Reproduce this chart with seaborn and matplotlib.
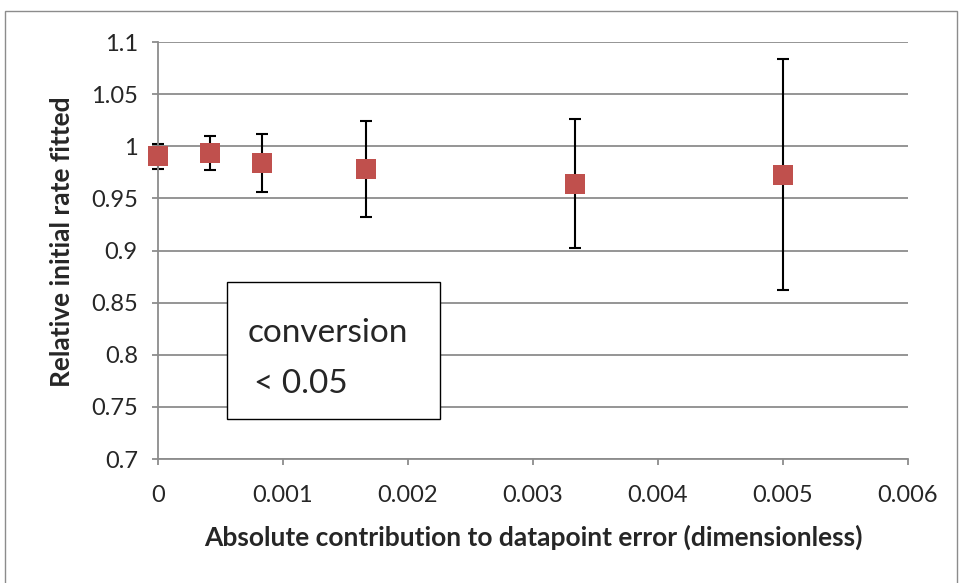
import matplotlib
matplotlib.use("Agg")
import matplotlib.pyplot as plt
import seaborn as sns
import pandas as pd
from matplotlib.patches import Rectangle

x_vals = [0.0, 0.000417, 0.000833, 0.001667, 0.003333, 0.005]
y_vals = [0.9905, 0.9935, 0.984, 0.978, 0.964, 0.9727]
y_err = [0.012, 0.016, 0.028, 0.046, 0.062, 0.111]
x_ticks = [0, 0.001, 0.002, 0.003, 0.004, 0.005, 0.006]
x_tick_labels = ["0", "0.001", "0.002", "0.003", "0.004", "0.005", "0.006"]
y_ticks = [0.7, 0.75, 0.8, 0.85, 0.9, 0.95, 1.0, 1.05, 1.1]
y_tick_labels = ["0.7", "0.75", "0.8", "0.85", "0.9", "0.95", "1", "1.05", "1.1"]

df = pd.DataFrame({"x": x_vals, "y": y_vals, "err": y_err})

sns.set_style("white")
plt.rcParams["font.family"] = ["Lato", "DejaVu Sans"]

W, H = 960, 583
fig = plt.figure(figsize=(W / 100, H / 100), dpi=100)
ax = fig.add_axes([158 / W, 1 - 459 / H, (908 - 158) / W, (459 - 42) / H])

# outer chart frame
fig.patches.append(Rectangle((5 / W, -0.05), (957 - 5) / W, 1.05 - 11 / H, transform=fig.transFigure,
                             fill=False, edgecolor="#8c8c8c", linewidth=1.0))

for yt in y_ticks:
    ax.axhline(yt, color="#8c8c8c", linewidth=1.3, zorder=0)

ax.errorbar(df["x"], df["y"], yerr=df["err"], fmt="none", ecolor="black",
            elinewidth=1.5, capsize=4.3, capthick=1.5, zorder=2, clip_on=False)
sns.scatterplot(data=df, x="x", y="y", marker="s", s=210, color="#c0504d",
                edgecolor="#c0504d", linewidth=0, ax=ax, zorder=3, clip_on=False)

ax.set_xlim(0, 0.006)
ax.set_ylim(0.7, 1.1)
ax.set_xticks(x_ticks)
ax.set_xticklabels(x_tick_labels, fontsize=17)
ax.set_yticks(y_ticks)
ax.set_yticklabels(y_tick_labels, fontsize=17)
ax.tick_params(axis="x", direction="out", length=4.5, width=1.3, color="#8c8c8c", pad=14, bottom=True)
ax.tick_params(axis="y", direction="out", length=4.5, width=1.3, color="#8c8c8c", pad=10, left=True)

for s in ["top", "right"]:
    ax.spines[s].set_visible(False)
for s in ["left", "bottom"]:
    ax.spines[s].set_color("#8c8c8c")
    ax.spines[s].set_linewidth(1.3)

ax.set_xlabel("Absolute contribution to datapoint error (dimensionless)", fontsize=19,
              fontweight="bold")
ax.set_ylabel("Relative initial rate fitted", fontsize=19, fontweight="bold")
ax.xaxis.label.set_verticalalignment("center")
ax.xaxis.set_label_coords(0.5, (459 - 537) / 417)
ax.yaxis.label.set_verticalalignment("center")
ax.yaxis.set_label_coords((62 - 158) / 750, 0.52)

# annotation box
fig.patches.append(Rectangle((227 / W, 1 - 419 / H), (440 - 227) / W, (419 - 282) / H,
                             transform=fig.transFigure, facecolor="white", edgecolor="black",
                             linewidth=1.0, zorder=5))
fig.text(248 / W, 1 - 342 / H, "conversion", fontsize=24, va="baseline", ha="left", zorder=6)
fig.text(254 / W, 1 - 393 / H, "< 0.05", fontsize=24, va="baseline", ha="left", zorder=6)

fig.savefig("out.png", dpi=100)
